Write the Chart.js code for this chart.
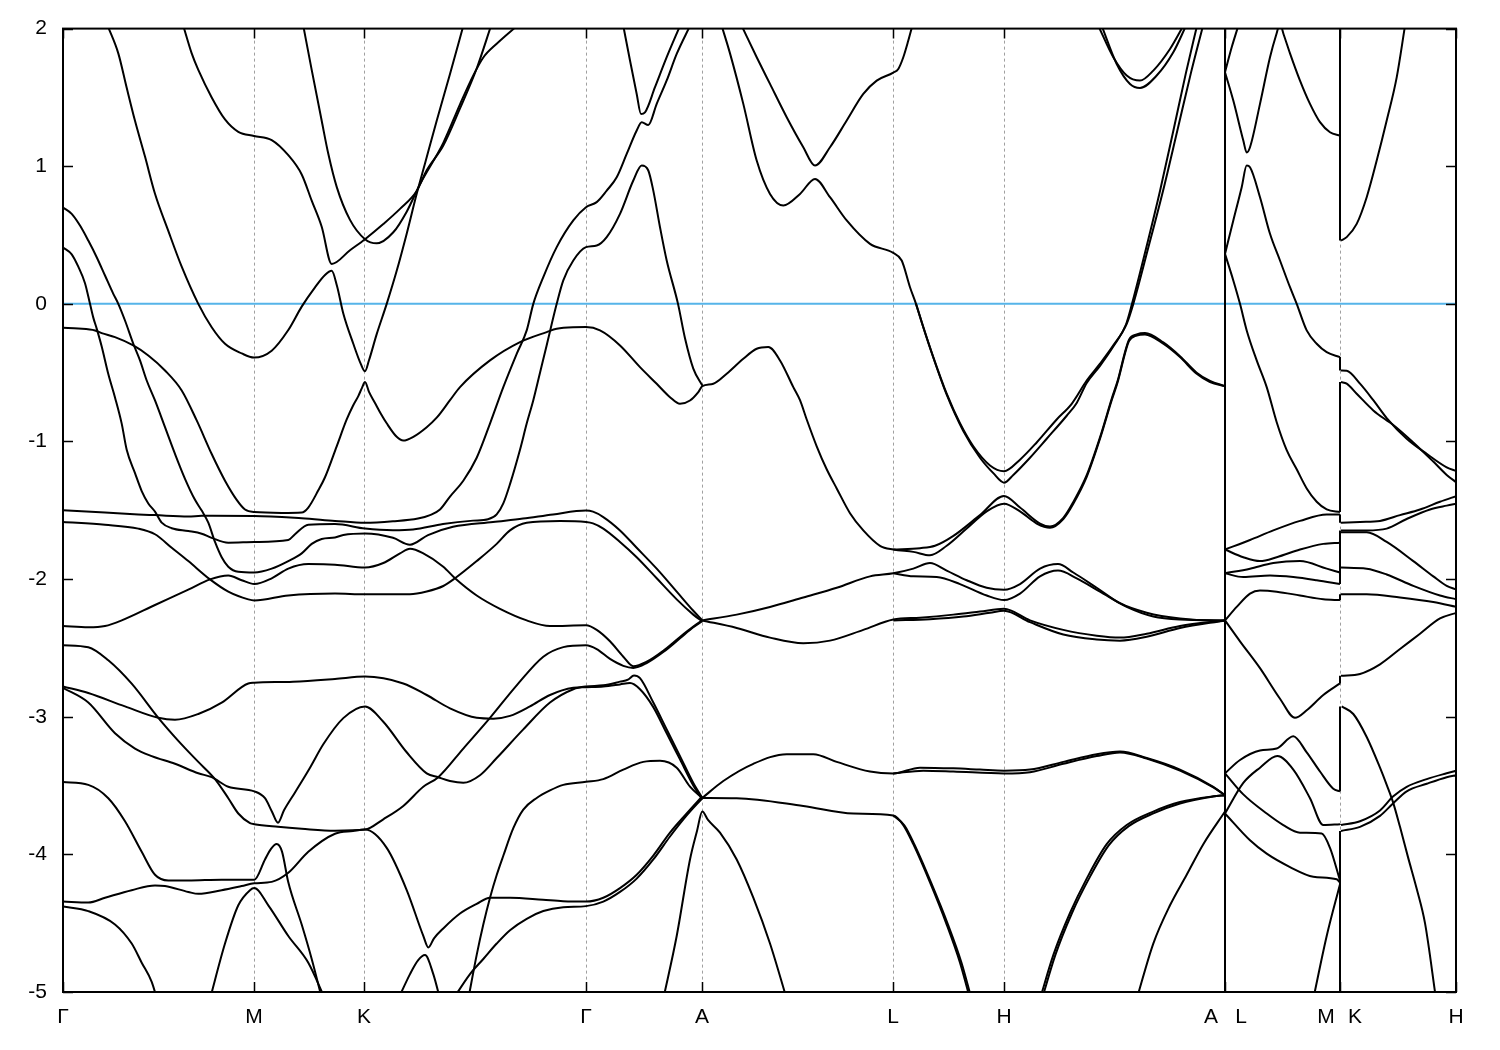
<!DOCTYPE html>
<html>
<head>
<meta charset="utf-8">
<script src="https://cdn.jsdelivr.net/npm/chart.js@4.4.1/dist/chart.umd.min.js"></script>
<style>
  html, body { margin: 0; padding: 0; background: #fff; }
</style>
</head>
<body>
<canvas id="bands" width="1500" height="1050"></canvas>
<script>
/* Band structure along Γ-M-K-Γ-A-L-H-A|L-M|K-H, energies in eV */

// k-path: high-symmetry positions (path distance units) and axis labels
const kPoints = [0, 191, 301, 523, 639, 830, 941, 1162, 1277, 1393];
const kLabelPos = [0, 191, 301, 523, 639, 830, 941, 1148, 1178, 1263, 1292, 1393];
const kLabels = ['Γ', 'M', 'K', 'Γ', 'A', 'L', 'H', 'A', 'L', 'M', 'K', 'H'];
const energyTicks = [-5, -4, -3, -2, -1, 0, 1, 2];
const fermiLevel = 0;

// Γ-M-K-Γ-A (curves traced left to right, [k, E])
const bandsGMKGA = [
  [[44.7,2.02],[55.3,1.82],[63.7,1.57],[72,1.33],[82,1.07],[92,0.80],[105.3,0.53],[118.7,0.27],[135.3,0],[148.7,-0.17],[162,-0.29],[178.7,-0.36],[191,-0.39],[208.7,-0.34],[225.3,-0.19],[238.7,-0.02],[252,0.12],[262,0.21],[268.7,0.24],[274,0.13],[280.3,-0.07],[290.3,-0.29],[298,-0.44],[302,-0.49],[306,-0.41],[313.7,-0.22],[323.7,0],[333.7,0.24],[343.7,0.51],[353.7,0.80],[362,1.02],[373.7,1.33],[387,1.67],[400.3,2.02]],
  [[120.3,2.02],[128.7,1.82],[135.3,1.70],[148.7,1.50],[162,1.34],[175.3,1.25],[191,1.22],[208.7,1.19],[225.3,1.08],[238.7,0.94],[248.7,0.75],[258.7,0.56],[268.7,0.29],[287,0.39],[302,0.47],[320.3,0.58],[337,0.69],[353.7,0.82],[363.7,0.97],[380.3,1.15],[397,1.42],[413.7,1.71],[428,2.02]],
  [[240.3,2.02],[248.7,1.70],[258.7,1.33],[265.3,1.09],[273.7,0.85],[287,0.61],[302,0.47],[313.7,0.44],[330.3,0.52],[343.7,0.67],[357,0.87],[380.3,1.17],[397,1.45],[410.3,1.66],[420.3,1.79],[433.7,1.89],[454,2.02]],
  [[0,0.41],[8.7,0.36],[15.3,0.27],[22,0.15],[27,0],[30.3,-0.10],[33.7,-0.18],[38.7,-0.31],[45.3,-0.51],[52,-0.68],[58.7,-0.87],[63.7,-1.06],[72,-1.23],[78.7,-1.36],[85.3,-1.45],[92,-1.51],[98.7,-1.59],[108.7,-1.63],[125.3,-1.65],[138.7,-1.67],[148.7,-1.70],[165.3,-1.735],[191.3,-1.73],[225.3,-1.716],[232,-1.674],[245.3,-1.605],[272,-1.60],[302,-1.633],[330,-1.645],[350,-1.64],[380,-1.60],[410,-1.575],[425,-1.565],[433.7,-1.53],[440.3,-1.45],[447,-1.31],[457,-1.06],[463.7,-0.87],[470.3,-0.70],[477,-0.50],[483.7,-0.30],[493.7,0],[500.3,0.17],[510.3,0.315],[523,0.412],[533.7,0.424],[543.7,0.485],[557,0.654],[570.3,0.896],[578.7,1.005],[585.3,0.969],[590.3,0.823],[597,0.557],[603.7,0.315],[615,0],[622,-0.25],[630.3,-0.47],[639.3,-0.593]],
  [[0,0.70],[8.7,0.654],[17,0.569],[25.3,0.46],[33.7,0.339],[42,0.206],[50.3,0.073],[55.3,0],[62,-0.121],[70.3,-0.29],[77,-0.411],[83.7,-0.557],[92,-0.702],[102,-0.896],[112,-1.09],[122,-1.271],[132,-1.424],[138.7,-1.502],[145.3,-1.59],[152,-1.73],[158.7,-1.841],[165.3,-1.91],[175.3,-1.947],[191.3,-1.952],[208.7,-1.924],[225.3,-1.869],[238.7,-1.813],[248.7,-1.744],[258.7,-1.708],[272,-1.697],[280.3,-1.68],[302,-1.669],[330,-1.70],[347,-1.75],[365,-1.68],[390,-1.62],[430,-1.585],[460,-1.56],[490,-1.53],[523,-1.502],[530,-1.51],[540.3,-1.549],[557,-1.646],[573.7,-1.772],[593.7,-1.924],[613.7,-2.091],[630.3,-2.23],[639.3,-2.3]],
  [[0,-0.174],[15.3,-0.179],[32,-0.193],[38.7,-0.213],[52,-0.242],[70.3,-0.302],[85.3,-0.375],[102,-0.484],[118.7,-0.629],[133.7,-0.847],[148.7,-1.091],[162,-1.285],[173.7,-1.424],[182,-1.494],[191.3,-1.513],[218.7,-1.519],[238.7,-1.516],[245.3,-1.48],[255.3,-1.355],[262,-1.26],[273.7,-1.035],[283.7,-0.84],[290,-0.74],[295.3,-0.67],[299,-0.61],[302,-0.568],[306,-0.64],[312,-0.72],[318,-0.80],[323.7,-0.868],[333.7,-0.966],[340.3,-0.993],[350.3,-0.966],[363.7,-0.896],[373.7,-0.827],[387,-0.70],[397,-0.605],[427,-0.411],[457,-0.278],[483.7,-0.205],[493.7,-0.181],[510,-0.17],[523,-0.169],[537,-0.193],[557,-0.302],[577,-0.46],[593.7,-0.581],[607,-0.678],[617,-0.726],[627,-0.702],[635.3,-0.641],[639.3,-0.598],[650.3,-0.581],[663.7,-0.508],[680.3,-0.399],[693.7,-0.326],[705.3,-0.314],[717,-0.411],[730.3,-0.605],[737,-0.70],[743.7,-0.84],[753.7,-1.035],[763.7,-1.202],[773.7,-1.341],[787,-1.521],[800.3,-1.646],[817,-1.758],[830.3,-1.785],[850.3,-1.802],[867,-1.827],[883.7,-1.758],[903.7,-1.633],[923.7,-1.508],[941,-1.452],[957,-1.508],[973.7,-1.596],[987,-1.627],[1000.3,-1.563],[1010.3,-1.452],[1023.7,-1.257],[1037,-0.98],[1048.7,-0.70],[1055,-0.56],[1062,-0.36],[1066,-0.27],[1073.7,-0.23],[1082,-0.222],[1100.3,-0.29],[1117,-0.387],[1133.7,-0.508],[1147,-0.568],[1162,-0.598]],
  [[0,-1.499],[42,-1.516],[75.3,-1.53],[92,-1.535],[125.3,-1.545],[138.7,-1.54],[191.3,-1.541],[238.7,-1.558],[272,-1.577],[302,-1.591],[330,-1.58],[355,-1.56],[367,-1.535],[377,-1.494],[387,-1.40],[400.3,-1.285],[413.7,-1.118],[427,-0.87],[440.3,-0.605],[453.7,-0.363],[463.7,-0.193],[470.3,0],[480.3,0.194],[493.7,0.412],[510.3,0.606],[523,0.702],[533.7,0.739],[543.7,0.823],[553.7,0.92],[563.7,1.09],[573.7,1.26],[578.7,1.32],[585.3,1.30],[593.7,1.453],[603.7,1.623],[613.7,1.816],[627,2.02]],
  [[0,-1.585],[42,-1.605],[75.3,-1.633],[92,-1.674],[108.7,-1.772],[125.3,-1.869],[147,-2.002],[165.3,-2.091],[185.3,-2.147],[191.3,-2.155],[225.3,-2.119],[272,-2.105],[302,-2.11],[347,-2.11],[363.7,-2.09],[380.3,-2.05],[392,-1.994],[413.7,-1.869],[433.7,-1.744],[447,-1.646],[463.7,-1.591],[497,-1.577],[523,-1.585],[530,-1.595],[540.3,-1.633],[557,-1.73],[573.7,-1.841],[593.7,-1.994],[613.7,-2.147],[630.3,-2.258],[639.3,-2.308]],
  [[0,-2.341],[25.3,-2.35],[42,-2.341],[58.7,-2.30],[92,-2.188],[125.3,-2.077],[147,-2.002],[165.3,-1.974],[178.7,-2.008],[191.3,-2.036],[208.7,-1.994],[225.3,-1.924],[245.3,-1.891],[272,-1.895],[302,-1.916],[320.3,-1.883],[337,-1.813],[347,-1.78],[360.3,-1.813],[380.3,-1.91],[392,-1.994],[413.7,-2.119],[437,-2.216],[463.7,-2.30],[487,-2.341],[523,-2.336],[533.7,-2.369],[547,-2.452],[560.3,-2.564],[570.3,-2.633],[583.7,-2.60],[600.3,-2.52],[617,-2.42],[630.3,-2.345],[639.3,-2.30]],
  [[0,-2.48],[25.3,-2.495],[45.3,-2.59],[68.7,-2.76],[95.3,-3.008],[115.3,-3.175],[135.3,-3.328],[152,-3.453],[165.3,-3.592],[175.3,-3.703],[187,-3.773],[191.3,-3.781],[215,-3.80],[238.7,-3.814],[272,-3.828],[302,-3.82],[320.3,-3.745],[340.3,-3.648],[360.3,-3.509],[375.3,-3.439],[400.3,-3.231],[427,-3.008],[453.7,-2.772],[480.3,-2.564],[500.3,-2.494],[523,-2.48],[533.7,-2.508],[547,-2.58],[560.3,-2.63],[570.3,-2.645],[583.7,-2.61],[600.3,-2.53],[617,-2.43],[630.3,-2.35],[639.3,-2.305]],
  [[0,-2.79],[25.3,-2.897],[52,-3.12],[72,-3.231],[88.7,-3.286],[112,-3.342],[135.3,-3.411],[148.7,-3.439],[165.3,-3.509],[191.3,-3.542],[202,-3.592],[209,-3.69],[215,-3.77],[221,-3.68],[232,-3.55],[247,-3.37],[260.3,-3.20],[280.3,-3.01],[302,-2.925],[320.3,-3.036],[343.7,-3.258],[363.7,-3.411],[375.3,-3.44],[387,-3.467],[400.3,-3.48],[417,-3.425],[433.7,-3.30],[460.3,-3.092],[487,-2.897],[510.3,-2.80],[523,-2.78],[540.3,-2.772],[557,-2.745],[565,-2.73],[571,-2.70],[577,-2.72],[590.3,-2.897],[603.7,-3.092],[617,-3.286],[630.3,-3.481],[639.3,-3.59]],
  [[0,-2.78],[25.3,-2.828],[62,-2.925],[95.3,-3.008],[112,-3.022],[135.3,-2.98],[158.7,-2.897],[185.3,-2.758],[191.3,-2.753],[230,-2.745],[272,-2.725],[302,-2.708],[340.3,-2.758],[363.7,-2.842],[387,-2.939],[413.7,-3.008],[430.3,-3.014],[447,-2.994],[467,-2.925],[487,-2.842],[510.3,-2.79],[523,-2.785],[540.3,-2.78],[557,-2.765],[567,-2.755],[577,-2.80],[590.3,-2.93],[603.7,-3.12],[617,-3.31],[630.3,-3.50],[639.3,-3.60]],
  [[0,-3.475],[25.3,-3.495],[45.3,-3.592],[62,-3.759],[78.7,-3.981],[92,-4.148],[105.3,-4.19],[125.3,-4.19],[158.7,-4.184],[191.3,-4.184],[202,-4.037],[208,-3.96],[213.7,-3.925],[219,-3.98],[225.3,-4.203],[238.7,-4.51],[248.7,-4.76],[259,-5.05]],
  [[0,-4.343],[25.3,-4.35],[42,-4.315],[68.7,-4.26],[92,-4.226],[102,-4.23],[125.3,-4.273],[135.3,-4.287],[158.7,-4.26],[178.7,-4.23],[191.3,-4.21],[208.7,-4.20],[225.3,-4.134],[245.3,-3.981],[272,-3.85],[290,-3.83],[302,-3.82],[323.7,-3.953],[343.7,-4.259],[360.3,-4.592],[365.3,-4.676],[371,-4.61],[380,-4.54],[397,-4.43],[413.7,-4.36],[427,-4.315],[447,-4.315],[480,-4.33],[500,-4.34],[523,-4.343],[540.3,-4.315],[557,-4.245],[573.7,-4.148],[590.3,-4.009],[607,-3.842],[623.7,-3.703],[639.3,-3.578]],
  [[147,-5.05],[162,-4.648],[175.3,-4.37],[187,-4.26],[191.3,-4.245],[205.3,-4.37],[225.3,-4.593],[245.3,-4.787],[262,-5.05]],
  [[0,-4.378],[25.3,-4.412],[52,-4.509],[68.7,-4.648],[78.7,-4.787],[88.7,-4.926],[94,-5.05]],
  [[405.3,-5.05],[413.7,-4.73],[420.3,-4.51],[427,-4.315],[433.7,-4.15],[440.3,-4.01],[450.3,-3.81],[460.3,-3.675],[473.7,-3.59],[487,-3.535],[500.3,-3.495],[523,-3.473],[540.3,-3.453],[560.3,-3.384],[580.3,-3.328],[597,-3.32],[613.7,-3.37],[627,-3.508],[639.3,-3.592]],
  [[390.3,-5.05],[407,-4.87],[420.3,-4.76],[433.7,-4.648],[447,-4.551],[463.7,-4.468],[480.3,-4.412],[500.3,-4.384],[523,-4.376],[540.3,-4.343],[557,-4.273],[573.7,-4.176],[590.3,-4.037],[607,-3.87],[623.7,-3.717],[639.3,-3.592]],
  [[335.3,-5.05],[347,-4.87],[355,-4.77],[362,-4.732],[370.3,-4.87],[377,-5.05]],
  [[560.3,2.02],[567,1.768],[573.7,1.525],[578,1.38],[582,1.392],[592,1.574],[603.7,1.792],[617,2.02]],
  [[600.3,-5.05],[613.7,-4.593],[627,-4.037],[634,-3.83],[639.3,-3.689],[645,-3.75],[657,-3.842],[673.7,-4.037],[690.3,-4.315],[707,-4.648],[723.7,-5.05]]
];

// A-L-H-A
const bandsALHA = [
  [[658.7,2.02],[667,1.82],[680.3,1.453],[693.7,1.041],[707,0.799],[720.3,0.715],[737,0.799],[752,0.908],[767,0.775],[783.7,0.606],[807,0.436],[830.3,0.37],[838.7,0.315],[847,0.121],[853,0],[860.3,-0.169],[870.3,-0.387],[883.7,-0.653],[897,-0.868],[910.3,-1.035],[927,-1.174],[941,-1.216],[957,-1.132],[973.7,-1.007],[993.7,-0.84],[1008.7,-0.726],[1023.7,-0.557],[1037,-0.435],[1050.3,-0.302],[1063.7,-0.145],[1070.3,0],[1085,0.40],[1100,0.82],[1115,1.28],[1128,1.68],[1140,2.02]],
  [[853,0],[860.3,-0.17],[870.3,-0.39],[883.7,-0.66],[900.3,-0.924],[917,-1.118],[930.3,-1.23],[941,-1.299],[950.3,-1.243],[967,-1.118],[983.7,-0.98],[1003.7,-0.813],[1013.7,-0.72],[1023.7,-0.575],[1037,-0.45],[1050.3,-0.31],[1063,-0.15],[1069,0],[1083,0.40],[1097,0.82],[1111,1.28],[1123,1.68],[1134,2.02]],
  [[678.7,2.02],[693.7,1.792],[707,1.598],[723.7,1.356],[740.3,1.138],[752,1.005],[767,1.138],[783.7,1.332],[800.3,1.525],[813.7,1.622],[830.3,1.68],[835.3,1.707],[840.3,1.792],[845.3,1.913],[849.3,2.02]],
  [[1035.3,2.02],[1050.3,1.792],[1063.7,1.659],[1077,1.622],[1090.3,1.695],[1107,1.852],[1120.3,2.02]],
  [[1038.7,2.02],[1053.7,1.743],[1067,1.598],[1077,1.569],[1093.7,1.659],[1110.3,1.828],[1123,2.02]],
  [[830.3,-1.785],[857,-1.775],[872,-1.758],[890,-1.688],[917,-1.535],[941,-1.396],[957,-1.48],[977,-1.596],[987,-1.618],[1000.3,-1.555],[1010.3,-1.44],[1023.7,-1.245],[1037,-0.97],[1048.7,-0.69],[1055,-0.55],[1062,-0.35],[1066,-0.26],[1073.7,-0.222],[1082,-0.212],[1100.3,-0.28],[1117,-0.38],[1133.7,-0.50],[1147,-0.56],[1162,-0.598]],
  [[639.3,-2.3],[673.7,-2.258],[707,-2.202],[740.3,-2.133],[773.7,-2.063],[807,-1.98],[830.3,-1.958],[850.3,-1.924],[867,-1.883],[883.7,-1.938],[903.7,-2.008],[923.7,-2.063],[941,-2.077],[957,-2.036],[977,-1.924],[995,-1.891],[1010.3,-1.952],[1033.7,-2.063],[1057,-2.175],[1083.7,-2.244],[1117,-2.286],[1150.3,-2.3],[1162,-2.3]],
  [[830.3,-1.958],[850.3,-1.98],[873.7,-1.985],[897,-2.036],[923.7,-2.119],[941,-2.152],[957,-2.105],[977,-1.98],[995,-1.938],[1013.7,-1.994],[1037,-2.091],[1063.7,-2.202],[1090.3,-2.272],[1117,-2.294],[1162,-2.3]],
  [[639.3,-2.3],[673.7,-2.355],[707,-2.425],[740.3,-2.466],[767,-2.447],[800.3,-2.369],[830.3,-2.294],[857,-2.28],[890.3,-2.258],[917,-2.236],[941,-2.216],[967,-2.30],[1000.3,-2.369],[1033.7,-2.411],[1057,-2.425],[1083.7,-2.397],[1117,-2.341],[1162,-2.3]],
  [[830.3,-2.30],[867,-2.291],[900.3,-2.272],[927,-2.244],[941,-2.23],[967,-2.313],[1000.3,-2.403],[1033.7,-2.439],[1057,-2.447],[1083.7,-2.419],[1117,-2.355],[1162,-2.3]],
  [[639.3,-3.59],[660.3,-3.467],[690.3,-3.342],[723.7,-3.272],[750.3,-3.272],[773.7,-3.328],[807,-3.398],[830.3,-3.412],[857,-3.37],[890.3,-3.375],[917,-3.384],[941,-3.392],[967,-3.384],[1000.3,-3.328],[1033.7,-3.272],[1057,-3.253],[1083.7,-3.30],[1117,-3.384],[1150.3,-3.509],[1162,-3.57]],
  [[830.3,-3.412],[860.3,-3.392],[890.3,-3.398],[941,-3.412],[967,-3.403],[1000.3,-3.342],[1033.7,-3.286],[1057,-3.259],[1083.7,-3.303],[1117,-3.392],[1150.3,-3.514],[1162,-3.57]],
  [[639.3,-3.59],[673.7,-3.592],[740.3,-3.648],[790.3,-3.703],[830.3,-3.717],[840.3,-3.787],[850.3,-3.926],[867,-4.204],[883.7,-4.51],[897,-4.787],[907,-5.05]],
  [[830.3,-3.717],[841.5,-3.79],[851.5,-3.93],[868,-4.204],[885,-4.51],[898.5,-4.787],[908.5,-5.05]],
  [[977,-5.05],[990.3,-4.732],[1007,-4.426],[1023.7,-4.176],[1043.7,-3.926],[1063.7,-3.787],[1090.3,-3.689],[1117,-3.62],[1150.3,-3.578],[1162,-3.57]],
  [[979,-5.05],[992.3,-4.732],[1009,-4.426],[1025.7,-4.18],[1045.7,-3.935],[1065.7,-3.795],[1091,-3.70],[1117,-3.63],[1150.3,-3.58],[1162,-3.57]],
  [[1073.7,-5.05],[1090.3,-4.648],[1107,-4.37],[1123.7,-4.148],[1140.3,-3.926],[1162,-3.689]]
];

// L-M (after the A|L break)
const bandsLM = [
  [[1162,1.683],[1170.3,1.477],[1180.3,1.187],[1183.7,1.10],[1187,1.138],[1197,1.453],[1207,1.792],[1213,1.95],[1217,2.03],[1221,1.95],[1227,1.82],[1237,1.622],[1247,1.453],[1257,1.32],[1267,1.247],[1277,1.223]],
  [[1162,1.683],[1168.7,1.864],[1175.3,2.02]],
  [[1162,0.363],[1170.3,0.606],[1178.7,0.848],[1183.7,1.005],[1187,0.993],[1197,0.775],[1207,0.509],[1217,0.315],[1227,0.121],[1233.7,0],[1243.7,-0.193],[1253.7,-0.29],[1263.7,-0.351],[1277,-0.387]],
  [[1162,0.363],[1170.3,0.17],[1177,0],[1183.7,-0.193],[1193.7,-0.411],[1203.7,-0.605],[1213.7,-0.86],[1223.7,-1.063],[1233.7,-1.202],[1243.7,-1.341],[1253.7,-1.438],[1263.7,-1.494],[1277,-1.513]],
  [[1162,-1.785],[1187,-1.716],[1210.3,-1.646],[1237,-1.577],[1263.7,-1.53],[1277,-1.53]],
  [[1162,-1.785],[1180.3,-1.841],[1197,-1.869],[1213.7,-1.841],[1237,-1.785],[1260.3,-1.744],[1277,-1.735]],
  [[1162,-1.958],[1187,-1.924],[1210.3,-1.883],[1237,-1.869],[1263.7,-1.924],[1277,-1.952]],
  [[1162,-1.958],[1180.3,-1.985],[1207,-1.974],[1230.3,-1.985],[1253.7,-2.008],[1277,-2.036]],
  [[1162,-2.3],[1173.7,-2.202],[1187,-2.105],[1197,-2.083],[1213.7,-2.091],[1237,-2.119],[1260.3,-2.147],[1277,-2.152]],
  [[1162,-2.3],[1177,-2.452],[1197,-2.647],[1217,-2.869],[1232,-3.008],[1243.7,-2.953],[1260.3,-2.842],[1277,-2.758]],
  [[1162,-3.411],[1177,-3.314],[1197,-3.245],[1213.7,-3.231],[1230.3,-3.142],[1243.7,-3.259],[1257,-3.398],[1270.3,-3.523],[1277,-3.542]],
  [[1162,-3.703],[1180.3,-3.481],[1197,-3.37],[1214.3,-3.286],[1230.3,-3.384],[1247,-3.592],[1260.3,-3.787],[1277,-3.781]],
  [[1162,-3.411],[1180.3,-3.564],[1203.7,-3.703],[1220.3,-3.787],[1237,-3.842],[1258.7,-3.848],[1267,-3.953],[1277,-4.19]],
  [[1162,-3.703],[1187,-3.898],[1203.7,-3.995],[1227,-4.092],[1250.3,-4.162],[1273.7,-4.181],[1277,-4.204]],
  [[1250.3,-5.05],[1263.7,-4.593],[1277,-4.217]]
];

// K-H (after the M|K break)
const bandsKH = [
  [[1278,0.46],[1283.7,0.485],[1293.7,0.581],[1303.7,0.775],[1313.7,1.041],[1323.7,1.332],[1333.7,1.646],[1342,2.02]],
  [[1278,-0.484],[1283.7,-0.486],[1297,-0.58],[1310.3,-0.70],[1323.7,-0.83],[1343.7,-0.98],[1363.7,-1.09],[1383.7,-1.188],[1393.7,-1.216]],
  [[1278,-0.568],[1283.7,-0.58],[1293.7,-0.653],[1310.3,-0.774],[1323.7,-0.847],[1330.3,-0.88],[1350.3,-1.007],[1370.3,-1.146],[1383.7,-1.243],[1393.7,-1.299]],
  [[1278,-1.591],[1297,-1.585],[1317,-1.577],[1337,-1.535],[1357,-1.494],[1377,-1.438],[1393.7,-1.396]],
  [[1278,-1.646],[1303.7,-1.646],[1323.7,-1.633],[1343.7,-1.563],[1367,-1.494],[1383.7,-1.466],[1393.7,-1.452]],
  [[1278,-1.66],[1303.7,-1.66],[1323.7,-1.73],[1350.3,-1.869],[1370.3,-1.98],[1383.7,-2.049],[1393.7,-2.077]],
  [[1278,-1.916],[1303.7,-1.924],[1323.7,-1.966],[1350.3,-2.049],[1377,-2.119],[1393.7,-2.147]],
  [[1278,-2.11],[1303.7,-2.11],[1337,-2.133],[1370.3,-2.166],[1393.7,-2.202]],
  [[1278,-2.703],[1297,-2.689],[1317,-2.619],[1337,-2.508],[1357,-2.397],[1377,-2.286],[1393.7,-2.244]],
  [[1278.7,-2.925],[1290.3,-2.98],[1303.7,-3.147],[1317,-3.37],[1324,-3.50],[1330,-3.62],[1337,-3.80],[1345,-4.02],[1353.7,-4.25],[1362,-4.5],[1373,-5.05]],
  [[1278,-3.787],[1297,-3.759],[1317,-3.681],[1330,-3.58],[1343.7,-3.509],[1363.7,-3.453],[1383.7,-3.411],[1393.7,-3.392]],
  [[1278,-3.83],[1297,-3.80],[1317,-3.72],[1330,-3.63],[1343.7,-3.542],[1363.7,-3.487],[1383.7,-3.439],[1393.7,-3.425]]
];

// vertical jumps where the path is discontinuous: [E from, E to]
const jumpAL = [[2, -5]];
const jumpMK = [[2, 0.46], [-0.387, -0.484], [-0.568, -1.513], [-1.53, -1.591], [-1.646, -1.735],
  [-1.66, -1.952], [-1.916, -2.036], [-2.11, -2.152], [-2.703, -2.758], [-2.925, -3.542],
  [-3.781, -3.787], [-3.83, -5]];

const FONT = "'Liberation Sans', Arial, sans-serif";
const LINE_W = 2;

function bandDataset(points) {
  return {
    data: points.map(([x, y]) => ({ x, y })),
    borderColor: '#000',
    borderWidth: LINE_W,
    pointRadius: 0,
    fill: false,
    cubicInterpolationMode: 'monotone',
  };
}

function jumpDatasets(kx, pairs) {
  return pairs.map(([a, b]) => ({
    data: [{ x: kx, y: a }, { x: kx, y: b }],
    borderColor: '#000',
    borderWidth: LINE_W,
    pointRadius: 0,
    fill: false,
  }));
}

const datasets = [
  ...[...bandsGMKGA, ...bandsALHA, ...bandsLM, ...bandsKH].map(bandDataset),
  ...jumpDatasets(kPoints[7], jumpAL),
  ...jumpDatasets(kPoints[8], jumpMK),
  {
    data: [{ x: kPoints[0], y: fermiLevel }, { x: kPoints[kPoints.length - 1], y: fermiLevel }],
    borderColor: '#56b4e9',
    borderWidth: 2,
    pointRadius: 0,
    fill: false,
  },
];

// gnuplot-like frame: dotted k-point lines, inward tick marks, black border
const framePlugin = {
  id: 'frame',
  beforeDatasetsDraw(chart) {
    const { ctx, chartArea: a, scales: { x } } = chart;
    ctx.save();
    ctx.strokeStyle = '#a0a0a0';
    ctx.lineWidth = 1;
    ctx.setLineDash([3, 3]);
    for (const k of kPoints.slice(1, -1)) {
      const px = Math.round(x.getPixelForValue(k)) + 0.5;
      ctx.beginPath();
      ctx.moveTo(px, a.top);
      ctx.lineTo(px, a.bottom);
      ctx.stroke();
    }
    ctx.restore();
  },
  afterDatasetsDraw(chart) {
    const { ctx, chartArea: a, scales: { x, y } } = chart;
    ctx.save();
    ctx.strokeStyle = '#000';
    ctx.lineWidth = 1.5;
    ctx.beginPath();
    for (const e of energyTicks) {
      const py = Math.round(y.getPixelForValue(e)) + 0.5;
      ctx.moveTo(a.left, py); ctx.lineTo(a.left + 10, py);
      ctx.moveTo(a.right, py); ctx.lineTo(a.right - 10, py);
    }
    for (const k of kPoints) {
      const px = Math.round(x.getPixelForValue(k)) + 0.5;
      ctx.moveTo(px, a.bottom); ctx.lineTo(px, a.bottom - 10);
      ctx.moveTo(px, a.top); ctx.lineTo(px, a.top + 10);
    }
    ctx.stroke();
    ctx.lineWidth = 2;
    ctx.strokeRect(a.left, a.top, a.right - a.left, a.bottom - a.top);
    ctx.restore();
  },
};

new Chart(document.getElementById('bands'), {
  type: 'line',
  data: { datasets },
  options: {
    responsive: false,
    devicePixelRatio: 1,
    animation: false,
    events: [],
    layout: { padding: { top: 28, right: 44, left: 0, bottom: 0 } },
    plugins: { legend: { display: false }, tooltip: { enabled: false } },
    scales: {
      x: {
        type: 'linear',
        min: kPoints[0],
        max: kPoints[kPoints.length - 1],
        grid: { display: false, drawTicks: false },
        border: { display: false },
        afterBuildTicks: (s) => { s.ticks = kLabelPos.map(v => ({ value: v })); },
        afterFit: (s) => { s.height = 58; },
        ticks: {
          autoSkip: false,
          maxRotation: 0,
          padding: 13,
          color: '#000',
          font: { family: FONT, size: 21 },
          callback: (v, i) => kLabels[i],
        },
      },
      y: {
        type: 'linear',
        min: -5,
        max: 2,
        grid: { display: false, drawTicks: false },
        border: { display: false },
        afterBuildTicks: (s) => { s.ticks = energyTicks.map(v => ({ value: v })); },
        afterFit: (s) => { s.width = 63; },
        ticks: {
          padding: 16,
          color: '#000',
          font: { family: FONT, size: 21 },
        },
      },
    },
  },
  plugins: [framePlugin],
});
</script>
</body>
</html>
